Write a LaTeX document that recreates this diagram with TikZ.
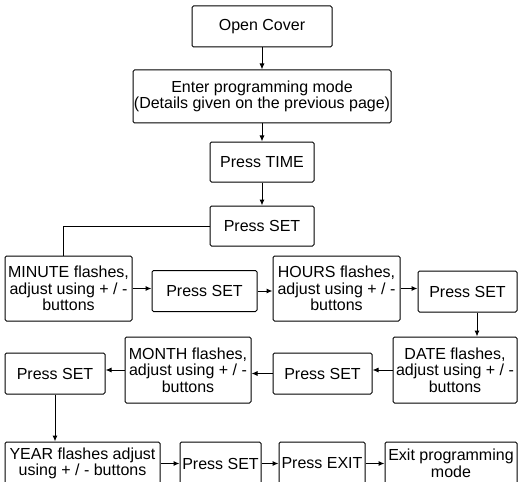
\documentclass[tikz,border=0pt]{standalone}
\usepackage{fontspec}
\setmainfont{Liberation Sans}
\usetikzlibrary{arrows.meta}

\tikzset{
	stepbox/.style={draw, line width=1pt, rounded corners=1.5pt, align=center,
		inner sep=0pt, font=\fontsize{16}{16.5}\selectfont},
	arr/.style={line width=1pt, -{Latex[length=6pt,width=5pt]}},
	link/.style={line width=1pt}
}

\begin{document}
\begin{tikzpicture}[x=1pt,y=-1pt]

	\useasboundingbox (0,0) rectangle (518,481);

	\node[stepbox, minimum width=140pt, minimum height=41pt] (open) at (262,26.5) {Open Cover};
	\node[stepbox, minimum width=258pt, minimum height=53pt] (enter) at (262,96.5) {Enter programming mode\\(Details given on the previous page)};
	\node[stepbox, minimum width=104pt, minimum height=40pt] (time) at (262,162) {Press TIME};
	\node[stepbox, minimum width=104pt, minimum height=40pt] (set1) at (262,226) {Press SET};

	\node[stepbox, minimum width=127pt, minimum height=65pt] (minute) at (68.5,288.5) {MINUTE flashes,\\adjust using + / -\\buttons};
	\node[stepbox, minimum width=105pt, minimum height=41pt] (set2) at (204.5,291) {Press SET};
	\node[stepbox, minimum width=127pt, minimum height=65pt] (hours) at (336.5,288.5) {HOURS flashes,\\adjust using + / -\\buttons};
	\node[stepbox, minimum width=99pt, minimum height=41pt] (set3) at (467.5,291.5) {Press SET};

	\node[stepbox, minimum width=124pt, minimum height=66pt] (date) at (455,370) {DATE flashes,\\adjust using + / -\\buttons};
	\node[stepbox, minimum width=99pt, minimum height=41pt] (set4) at (322.5,373.5) {Press SET};
	\node[stepbox, minimum width=126pt, minimum height=66pt] (month) at (188,370) {MONTH flashes,\\adjust using + / -\\buttons};
	\node[stepbox, minimum width=100pt, minimum height=41pt] (set5) at (55,373.5) {Press SET};

	\node[stepbox, minimum width=155pt, minimum height=43pt] (year) at (82.5,463.5) {YEAR flashes adjust\\using + / - buttons};
	\node[stepbox, minimum width=81pt, minimum height=43pt] (set6) at (220.5,463.5) {Press SET};
	\node[stepbox, minimum width=86pt, minimum height=43pt] (exit) at (322,463.5) {Press EXIT};
	\node[stepbox, minimum width=132pt, minimum height=43pt] (leave) at (451,463.5) {Exit programming\\mode};

	% down the top column
	\foreach \i / \j in {open/enter, enter/time, time/set1}
	{
		\draw[arr] (\i.south) -- (\j.north);
	};
	\draw[link] (set1.west) -| ([xshift=-5.5pt]minute.north);

	% rows
	\foreach \i / \j in {minute/set2, set2/hours, hours/set3, year/set6, set6/exit, exit/leave}
	{
		\draw[arr] (\i.east) -- (\i.east -| \j.west);
	};
	\foreach \i / \j in {date/set4, set4/month, month/set5}
	{
		\draw[arr] (\i.west) -- (\i.west -| \j.east);
	};

	\draw[arr] ([xshift=9.5pt]set3.south) -- ([xshift=9.5pt]set3.south |- date.north);
	\draw[arr] (set5.south) -- (set5.south |- year.north);

\end{tikzpicture}
\end{document}
